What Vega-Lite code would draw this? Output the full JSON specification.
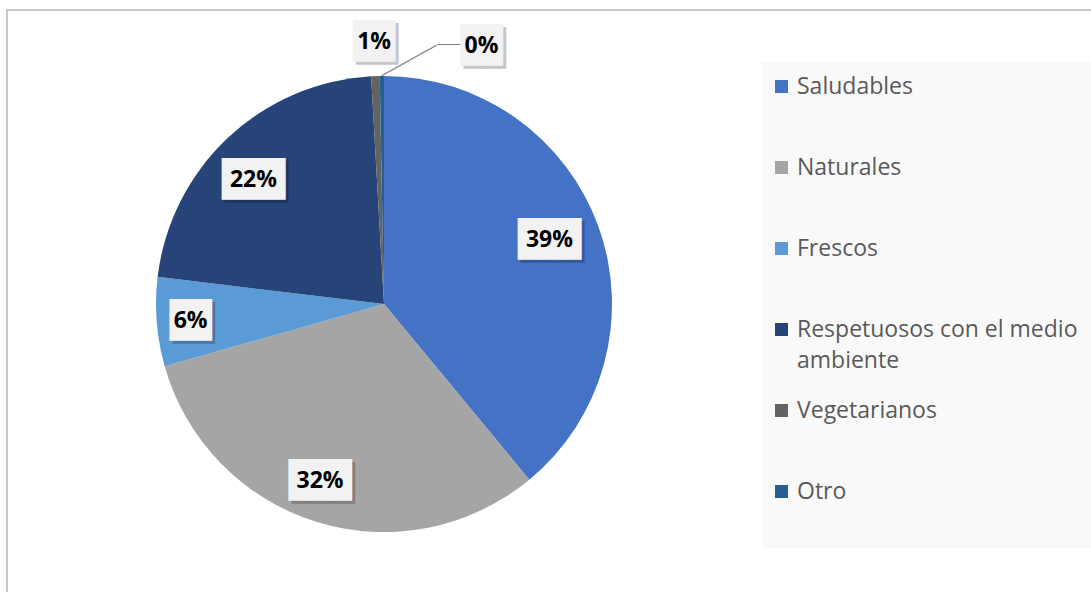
{
  "$schema": "https://vega.github.io/schema/vega-lite/v6.json",
  "width": 1090,
  "height": 590,
  "padding": {"left": 7, "top": 10, "right": 0, "bottom": 0},
  "autosize": {"type": "none"},
  "background": "#ffffff",
  "view": {"stroke": "#c8c8c8", "strokeWidth": 2},
  "config": {
    "view": {"stroke": "#c8c8c8", "strokeWidth": 2},
    "style": {"view": {"stroke": "#c8c8c8", "strokeWidth": 2}},
    "legend": {
      "orient": "none",
      "legendX": 755,
      "legendY": 52,
      "fillColor": "#f9f9f9",
      "padding": 13,
      "symbolType": "square",
      "symbolSize": 169,
      "symbolStrokeWidth": 0,
      "symbolOffset": -5,
      "labelFont": "Open Sans",
      "labelFontSize": 23,
      "labelColor": "#595959",
      "labelOffset": 4,
      "labelLimit": 400,
      "rowPadding": 26,
      "gridAlign": "all"
    }
  },
  "data": {
    "values": [
      {"cat": "Saludables", "share": 0.390, "idx": 1},
      {"cat": "Naturales", "share": 0.316, "idx": 2},
      {"cat": "Frescos", "share": 0.063, "idx": 3},
      {"cat": "Respetuosos con el medio ambiente", "share": 0.222, "idx": 4},
      {"cat": "Vegetarianos", "share": 0.006, "idx": 5},
      {"cat": "Otro", "share": 0.003, "idx": 6}
    ]
  },
  "encoding": {
    "theta": {"field": "share", "type": "quantitative", "stack": true},
    "order": {"field": "idx", "type": "quantitative"}
  },
  "layer": [
    {
      "mark": {"type": "arc", "outerRadius": 228, "x": 377, "y": 294},
      "encoding": {
        "color": {
          "field": "cat",
          "type": "nominal",
          "scale": {
            "domain": ["Saludables", "Naturales", "Frescos", "Respetuosos con el medio ambiente", "Vegetarianos", "Otro"],
            "range": ["#4472C4", "#A5A5A5", "#5B9BD5", "#264478", "#636363", "#255E91"]
          },
          "legend": {
            "title": null,
            "labelExpr": "datum.label == 'Respetuosos con el medio ambiente' ? ['Respetuosos con el medio', 'ambiente'] : datum.label == 'Otro' ? ['Otro', ' '] : datum.label",
            "encode": {"labels": {"update": {"lineHeight": {"value": 31}}}}
          }
        }
      }
    },
    {
      "mark": {"type": "text", "x": 377, "y": 294, "radius": 228, "align": "left", "baseline": "middle", "angle": -29, "font": "DejaVu Sans Mono", "fontSize": 13, "fill": "#7f7f7f"},
      "encoding": {
        "detail": {"field": "cat"},
        "text": {"value": "────────"},
        "opacity": {"condition": {"test": "datum.cat == 'Otro'", "value": 1}, "value": 0}
      }
    },
    {
      "mark": {"type": "text", "x": 377, "y": 294, "radius": 262, "dx": 56, "dy": 3, "align": "left", "baseline": "middle", "font": "DejaVu Sans Mono", "fontSize": 13, "fill": "#7f7f7f"},
      "encoding": {
        "detail": {"field": "cat"},
        "text": {"value": "───"},
        "opacity": {"condition": {"test": "datum.cat == 'Otro'", "value": 1}, "value": 0}
      }
    },
    {
      "mark": {
        "type": "text", "x": 377, "y": 294,
        "radius": {"expr": "datum.cat == 'Otro' || datum.cat == 'Vegetarianos' ? 262 : datum.cat == 'Frescos' ? 195 : datum.cat == 'Naturales' ? 185 : 179"},
        "dx": {"expr": "(datum.cat == 'Otro' ? 100 : datum.cat == 'Naturales' ? -9 : datum.cat == 'Saludables' ? -3 : datum.cat == 'Frescos' ? 1 : datum.cat == 'Vegetarianos' ? 0 : -8) + 3"},
        "dy": {"expr": "(datum.cat == 'Otro' ? 4 : datum.cat == 'Saludables' ? -3 : datum.cat == 'Frescos' ? 2 : datum.cat == 'Naturales' || datum.cat == 'Vegetarianos' ? 0 : 6) + 3"},
        "align": "center", "baseline": "middle", "font": "DejaVu Sans Mono", "fontSize": 35, "fill": "#000000", "opacity": 0.22
      },
      "encoding": {
        "detail": {"field": "cat"},
        "text": {"condition": {"test": "datum.share >= 0.095", "value": "███"}, "value": "██"}
      }
    },
    {
      "mark": {
        "type": "text", "x": 377, "y": 294,
        "radius": {"expr": "datum.cat == 'Otro' || datum.cat == 'Vegetarianos' ? 262 : datum.cat == 'Frescos' ? 195 : datum.cat == 'Naturales' ? 185 : 179"},
        "dx": {"expr": "datum.cat == 'Otro' ? 100 : datum.cat == 'Naturales' ? -9 : datum.cat == 'Saludables' ? -3 : datum.cat == 'Frescos' ? 1 : datum.cat == 'Vegetarianos' ? 0 : -8"},
        "dy": {"expr": "datum.cat == 'Otro' ? 4 : datum.cat == 'Saludables' ? -3 : datum.cat == 'Frescos' ? 2 : datum.cat == 'Naturales' || datum.cat == 'Vegetarianos' ? 0 : 6"},
        "align": "center", "baseline": "middle", "font": "DejaVu Sans Mono", "fontSize": 35, "fill": "#f2f2f2"
      },
      "encoding": {
        "detail": {"field": "cat"},
        "text": {"condition": {"test": "datum.share >= 0.095", "value": "███"}, "value": "██"}
      }
    },
    {
      "mark": {
        "type": "text", "x": 377, "y": 294,
        "radius": {"expr": "datum.cat == 'Otro' || datum.cat == 'Vegetarianos' ? 262 : datum.cat == 'Frescos' ? 195 : datum.cat == 'Naturales' ? 185 : 179"},
        "dx": {"expr": "datum.cat == 'Otro' ? 100 : datum.cat == 'Naturales' ? -9 : datum.cat == 'Saludables' ? -3 : datum.cat == 'Frescos' ? 1 : datum.cat == 'Vegetarianos' ? 0 : -8"},
        "dy": {"expr": "datum.cat == 'Otro' ? 4 : datum.cat == 'Saludables' ? -3 : datum.cat == 'Frescos' ? 2 : datum.cat == 'Naturales' || datum.cat == 'Vegetarianos' ? 0 : 6"},
        "align": "center", "baseline": "middle", "font": "Open Sans", "fontSize": 23, "fontWeight": "bold", "fill": "#000000"
      },
      "encoding": {
        "detail": {"field": "cat"},
        "text": {"field": "share", "type": "quantitative", "format": ".0%"}
      }
    }
  ]
}
